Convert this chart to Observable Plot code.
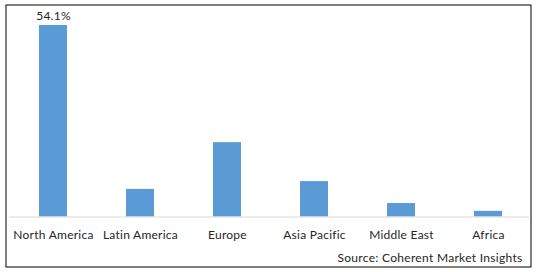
<!DOCTYPE html>
<html>
<head>
<meta charset="utf-8">
<script src="https://cdn.jsdelivr.net/npm/d3@7"></script>
<script src="https://cdn.jsdelivr.net/npm/@observablehq/plot@0.6"></script>
<style>
  html, body { margin: 0; padding: 0; background: #fff; }
  #chart svg { display: block; }
  #chart svg text { letter-spacing: 0.25px; }
</style>
</head>
<body>
<div id="chart"></div>
<script>
const categories = ["North America", "Latin America", "Europe", "Asia Pacific", "Middle East", "Africa"];
const shares = [54.1, 7.8, 21.0, 10.0, 3.8, 1.6];
const valueLabels = ["54.1%", "", "", "", "", ""];
const sourceText = "Source: Coherent Market Insights";

const data = categories.map((c, i) => ({region: c, share: shares[i], label: valueLabels[i]}));

const chart = Plot.plot({
  width: 538,
  height: 272,
  marginLeft: 5.5,
  marginRight: 7.5,
  marginTop: 4.5,
  marginBottom: 5.5,
  style: {fontFamily: "Lato, 'Liberation Sans', sans-serif", color: "#262626", background: "#fff"},
  x: {domain: categories, range: [39, 502], paddingInner: 59 / 87, paddingOuter: 0, axis: null},
  y: {domain: [0, 54.1], range: [216.5, 25], axis: null},
  marks: [
    Plot.frame({stroke: "#000", strokeWidth: 1}),
    Plot.barY(data, {x: "region", y: "share", fill: "#5B9BD5"}),
    Plot.ruleY([0], {stroke: "#d9d9d9", strokeWidth: 1, insetLeft: 3.5, insetRight: 1.5}),
    Plot.text(data, {x: "region", y: "share", text: "label", dy: -9.5, fontSize: 12, fill: "#262626"}),
    Plot.text(data, {x: "region", y: () => 0, text: "region", dy: 18.5, fontSize: 12, fill: "#262626"}),
    Plot.text([sourceText], {frameAnchor: "bottom-right", text: d => d, dx: -8.5, dy: -8.5, lineAnchor: "middle", textAnchor: "end", fontSize: 12, fill: "#262626"})
  ]
});
d3.select(chart).selectAll("text").filter(function() { return this.textContent === sourceText; }).style("letter-spacing", "0.3px");
document.getElementById("chart").appendChild(chart);
</script>
</body>
</html>
